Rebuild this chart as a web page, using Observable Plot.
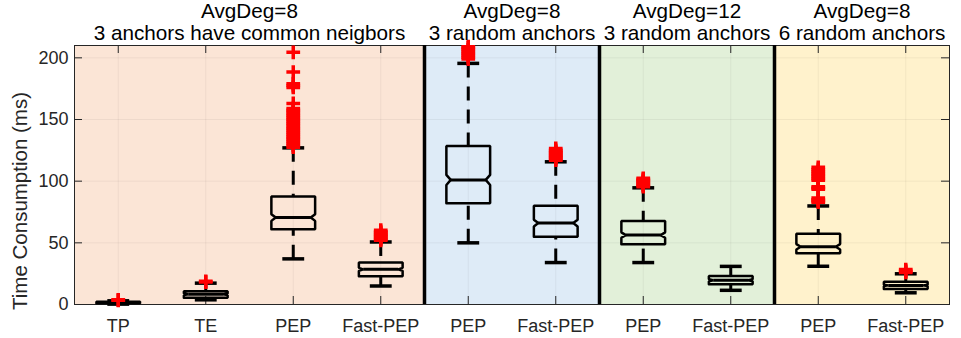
<!DOCTYPE html>
<html><head><meta charset="utf-8">
<script src="https://cdn.jsdelivr.net/npm/d3@7"></script>
<script src="https://cdn.jsdelivr.net/npm/@observablehq/plot@0.6"></script>
<style>
body{margin:0;background:#fff;font-family:"Liberation Sans",Arial,Helvetica,sans-serif}
svg{display:block}
</style>
</head><body><div id="chart"></div>
<script>
// ---- data ----
const tickLabels = ["TP","TE","PEP","Fast-PEP","PEP","Fast-PEP","PEP","Fast-PEP","PEP","Fast-PEP"];
const positions  = [1,2,3,4,5,6,7,8,9,10];
const whiskerLow  = [0.3, 3.8, 37,  15,   50,   34,   34,   11.5, 31,   9.5];
const q1          = [1.0, 5.4, 61,  23,   82,   55,   48.8, 16.4, 41.5, 12.6];
const median      = [1.6, 8.3, 70.5,28.5, 101,  66,   56.3, 19.6, 46.8, 15.5];
const q3          = [2.2, 10.8,87.5,34,   128.5,80,   67.7, 23.2, 57.3, 18.4];
const whiskerHigh = [3.0, 17.3,127, 50.7, 195.5,115.7,94.6, 30.9, 79.9, 24.9];
const notchHalf   = [0.2, 0.7, 2.7, 1.2,  4.1,  2.8,  2.2,  0.8,  2.2,  0.6];
const outliers = [
  [3.4, 3.8],
  [18.2, 18.8],
  [127.5,129,130.5,132,133.5,135,136.5,138,139.5,141,142.5,144,145.5,147,148.5,150,151.5,153,154.5,156,157.5,159,163,176,177.5,179,188.5,204.5],
  [52,53,54,55,56,57,58,59,60.3],
  [199,200.5,202,203.5,205,206.5,208,209],
  [117,118,119,120,121,122,123,124,125,126.5],
  [95.5,96.5,97.5,98.5,99.5,100.5,101.5,102.3],
  [],
  [83,84,85,86.3,93.5,94.5,95.4,100.8,102,103.5,105,106.5,108,109.5,111.2],
  [26,27,28.3]
];
const panelStart  = [0.5, 4.5, 6.5, 8.5];
const panelEnd    = [4.5, 6.5, 8.5, 10.5];
const panelColors = ["#FBE5D6","#DEEBF7","#E2F0D9","#FFF2CC"];
const panelLine1  = ["AvgDeg=8","AvgDeg=8","AvgDeg=12","AvgDeg=8"];
const panelLine2  = ["3 anchors have common neigbors","3 random anchors","3 random anchors","6 random anchors"];
const separators  = [4.5, 6.5, 8.5];
const yTicks      = [0, 50, 100, 150, 200];
const yLabel      = "Time Consumption (ms)";

// ---- derived tables ----
const W = 961, H = 338, mT = 45, mB = 34, mL = 74, mR = 12;
const plotW = W - mL - mR, plotH = H - mT - mB;
const halfBox = 0.25, halfCap = 0.125, indent = 0.05;

const panels = panelStart.map((s, i) => ({x1: s, x2: panelEnd[i], c: (s + panelEnd[i]) / 2,
  fill: panelColors[i], t1: panelLine1[i], t2: panelLine2[i]}));

const boxPts = [];
const stats = positions.map((p, i) => ({p, lo: whiskerLow[i], q1: q1[i], med: median[i], q3: q3[i], hi: whiskerHigh[i], n: notchHalf[i], label: tickLabels[i]}));
stats.forEach((s, i) => {
  const L = s.p - halfBox, R = s.p + halfBox;
  const pts = [
    [L, s.q1], [L, s.med - s.n], [L + indent, s.med], [L, s.med + s.n], [L, s.q3],
    [R, s.q3], [R, s.med + s.n], [R - indent, s.med], [R, s.med - s.n], [R, s.q1], [L, s.q1]
  ];
  pts.forEach(([x, y]) => boxPts.push({x, y, z: i}));
});
const whiskers = stats.flatMap(s => [
  {x: s.p, y1: s.hi, y2: s.q3},
  {x: s.p, y1: s.lo, y2: s.q1}
]);
const caps = stats.flatMap(s => [
  {x1: s.p - halfCap, x2: s.p + halfCap, y: s.hi},
  {x1: s.p - halfCap, x2: s.p + halfCap, y: s.lo}
]);
const meds = stats.map(s => ({x1: s.p - halfBox + indent, x2: s.p + halfBox - indent, y: s.med}));
const outPts = outliers.flatMap((arr, i) => arr.map(v => ({x: positions[i], y: v})));

const font = '"Liberation Sans", Arial, Helvetica, sans-serif';
const axisColor = "#262626";

const chart = Plot.plot({
  width: W, height: H,
  marginTop: mT, marginBottom: mB, marginLeft: mL, marginRight: mR,
  style: {fontFamily: font, background: "white", overflow: "visible"},
  x: {domain: [0.5, 10.5], axis: null},
  y: {domain: [0, 210], axis: null},
  color: {type: "identity"},
  marks: [
    Plot.rect(panels, {x1: "x1", x2: "x2", y1: 0, y2: 210, fill: "fill"}),
    Plot.ruleX(positions, {stroke: "#000", strokeOpacity: 0.05}),
    Plot.ruleY(yTicks, {stroke: "#000", strokeOpacity: 0.05}),
    Plot.tickX(positions, {x: d => d, stroke: axisColor, insetTop: plotH - 8}),
    Plot.tickX(positions, {x: d => d, stroke: axisColor, insetBottom: plotH - 8}),
    Plot.tickY(yTicks, {y: d => d, stroke: axisColor, insetRight: plotW - 8}),
    Plot.tickY(yTicks, {y: d => d, stroke: axisColor, insetLeft: plotW - 8}),
    Plot.frame({stroke: axisColor, strokeWidth: 1}),
    Plot.ruleX(separators, {stroke: "#000", strokeWidth: 3.5}),
    Plot.link(whiskers, {x1: "x", x2: "x", y1: "y1", y2: "y2", stroke: "#000", strokeWidth: 3, strokeDasharray: "14,9"}),
    Plot.link(caps, {x1: "x1", x2: "x2", y1: "y", y2: "y", stroke: "#000", strokeWidth: 3.5}),
    Plot.line(boxPts, {x: "x", y: "y", z: "z", stroke: "#000", strokeWidth: 2.5, strokeLinejoin: "miter"}),
    Plot.link(meds, {x1: "x1", x2: "x2", y1: "y", y2: "y", stroke: "#000", strokeWidth: 3}),
    Plot.dot(outPts, {x: "x", y: "y", symbol: "plus", r: 4.5, stroke: "#FF0000", strokeWidth: 3.5}),
    // titles
    Plot.text(panels, {x: "c", y: 210, text: "t1", dy: -34, fontSize: 20.7, fill: "#000"}),
    Plot.text(panels, {x: "c", y: 210, text: "t2", dy: -12, fontSize: 20.7, fill: "#000"}),
    // tick labels
    Plot.text(stats, {x: "p", y: 0, text: "label", dy: 22, fontSize: 18, fill: axisColor}),
    Plot.text(yTicks, {x: 0.5, y: d => d, text: d => String(d), textAnchor: "end", dx: -6, fontSize: 18, fill: axisColor}),
    Plot.text([yLabel], {frameAnchor: "left", text: d => d, textAnchor: "middle", rotate: -90, dx: -54, dy: 26, fontSize: 20.5, fill: axisColor})
  ]
});
document.getElementById("chart").appendChild(chart);
</script>
</body></html>
